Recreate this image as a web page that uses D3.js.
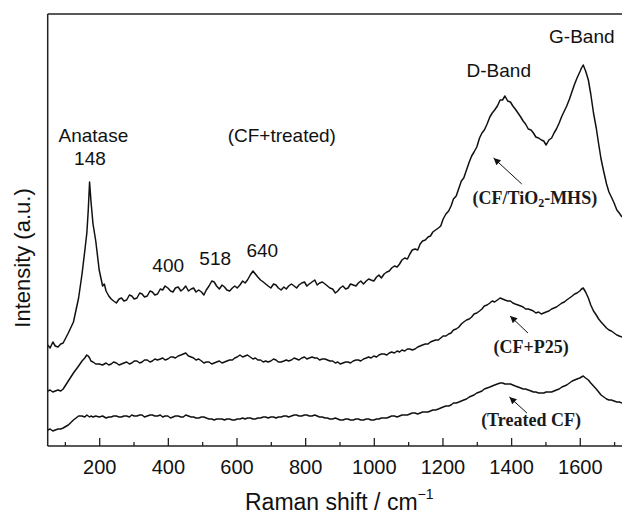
<!DOCTYPE html>
<html><head><meta charset="utf-8">
<script src="https://cdn.jsdelivr.net/npm/d3@7"></script>
<style>
html,body{margin:0;padding:0;background:#fff;}
svg{display:block;}
</style></head>
<body>
<svg id="chart" width="622" height="514"></svg>
<script>
// ---- data (Raman shift cm^-1, intensity a.u. with vertical offsets as plotted) ----
const mhsSpectrum = [
[50,101],[57,98],[65,104],[72,100],[80,99],[88,102],[95,103],[110,113],[125,124],[140,148],[150,172],[158,195],[164,213],[168,235],[172,264],[176,245],[182,222],[190,205],[200,176],[210,160],[215,162],[220,155],[228,150],[235,147],[242,145],[250,143],
[258,147],[265,148],[272,145],[280,146],[288,151],[295,150],[302,147],[310,148],[318,153],[325,152],[332,149],[340,150],[348,155],[355,154],[362,151],[370,152],[378,157],[385,156],[392,160],[400,158],[408,155],[415,154],[422,158],[430,159],[438,155],[445,157],[452,160],[460,155],[468,157],[475,158],[482,154],[490,156],[498,154],[505,151],[512,156],[520,160],[528,165],[535,164],[542,160],[550,157],
[558,161],[565,159],[572,156],[580,155],[588,158],[595,160],[602,158],[610,161],[618,165],[625,163],[632,166],[640,171],[648,175],[655,172],[662,169],[670,166],[678,164],[685,162],[692,160],[700,158],[708,162],[715,161],[722,158],[730,156],[738,159],[745,157],[752,160],[760,162],[768,160],[775,158],[782,161],[790,163],[798,164],[805,160],[812,162],[820,164],[828,166],[835,161],[842,163],[850,164],
[858,162],[865,160],[872,158],[880,157],[888,153],[895,155],[902,158],[910,160],[918,157],[925,158],[932,162],[940,161],[948,160],[955,163],[962,165],[970,162],[978,165],[985,167],[992,166],[1000,165],[1008,169],[1015,171],[1022,168],[1030,172],[1038,174],[1045,175],[1052,178],[1060,180],[1068,179],[1075,182],[1082,186],[1090,188],[1098,187],[1105,192],[1112,196],[1120,197],[1128,196],[1135,202],[1142,205],[1150,206],
[1158,209],[1165,210],[1172,214],[1180,216],[1188,218],[1195,220],[1202,227],[1210,232],[1218,235],[1225,240],[1232,247],[1240,250],[1248,258],[1255,265],[1262,268],[1270,276],[1278,284],[1285,290],[1292,294],[1300,299],[1308,308],[1315,313],[1322,316],[1330,322],[1338,329],[1345,333],[1352,336],[1360,340],[1368,346],[1375,346],[1382,350],[1390,345],[1398,344],[1405,340],[1412,337],[1420,333],[1428,329],[1435,325],[1442,322],[1450,317],
[1458,316],[1465,313],[1472,309],[1480,308],[1488,306],[1495,305],[1502,301],[1510,306],[1518,308],[1525,313],[1532,317],[1540,323],[1548,330],[1555,335],[1562,340],[1570,347],[1578,355],[1585,362],[1592,368],[1600,374],[1605,378],[1610,381],[1617,375],[1625,366],[1632,352],[1640,333],[1648,318],[1655,302],[1662,287],[1670,274],[1678,262],[1685,254],[1692,249],[1700,243],[1708,236],[1715,233],[1723,229]
];
const p25Spectrum = [
[50,55],[57,56],[65,54],[72,55],[80,56],[88,55],[95,57],[110,65],[125,73],[140,80],[150,85],[158,88],[164,91],[168,90],[172,88],[176,85],[182,84],[190,82],[200,82],[210,81],[220,83],[228,81],[235,82],[242,84],[250,83],
[258,81],[265,82],[272,83],[280,84],[288,82],[295,83],[302,85],[310,85],[318,83],[325,84],[332,86],[340,86],[348,84],[355,85],[362,87],[370,86],[378,87],[385,88],[392,86],[400,87],[408,89],[415,89],[422,88],[430,90],[438,91],[445,92],[452,93],[460,90],[468,89],[475,88],[482,86],[490,87],[498,85],[505,83],[512,84],[520,84],[528,82],[535,83],[542,84],[550,85],
[558,83],[565,84],[572,85],[580,86],[588,86],[595,88],[602,89],[610,91],[618,89],[625,90],[632,91],[640,89],[648,87],[655,88],[662,86],[670,86],[678,84],[685,85],[692,84],[700,85],[708,87],[715,86],[722,84],[730,84],[738,85],[745,86],[752,85],[760,86],[768,88],[775,87],[782,86],[790,88],[798,89],[805,87],[812,88],[820,89],[828,88],[835,88],[842,86],[850,87],
[858,87],[865,86],[872,85],[880,85],[888,83],[895,84],[902,82],[910,83],[918,84],[925,84],[932,83],[940,85],[948,86],[955,86],[962,85],[970,87],[978,88],[985,89],[992,88],[1000,90],[1008,89],[1015,91],[1022,92],[1030,92],[1038,91],[1045,93],[1052,94],[1060,93],[1068,95],[1075,94],[1082,96],[1090,95],[1098,97],[1105,97],[1112,96],[1120,97],[1128,99],[1135,100],[1142,101],[1150,102],
[1158,102],[1165,104],[1172,105],[1180,106],[1188,106],[1195,108],[1202,110],[1210,110],[1218,112],[1225,113],[1232,116],[1240,117],[1248,119],[1255,122],[1262,124],[1270,126],[1278,127],[1285,129],[1292,132],[1300,133],[1308,135],[1315,137],[1322,140],[1330,141],[1338,143],[1345,145],[1352,144],[1360,146],[1368,148],[1375,147],[1382,146],[1390,145],[1398,145],[1405,143],[1412,142],[1420,141],[1428,140],[1435,139],[1442,137],[1450,137],
[1458,136],[1465,135],[1472,133],[1480,134],[1488,132],[1495,133],[1502,134],[1510,135],[1518,137],[1525,138],[1532,139],[1540,141],[1548,143],[1555,144],[1562,146],[1570,148],[1578,150],[1585,152],[1592,153],[1600,155],[1605,157],[1610,158],[1617,154],[1625,148],[1632,141],[1640,135],[1648,131],[1655,127],[1662,124],[1670,121],[1678,118],[1685,116],[1692,115],[1700,113],[1708,111],[1715,110],[1723,109]
];
const treatedSpectrum = [
[50,16],[57,17],[65,15],[72,16],[80,17],[88,17],[95,18],[110,21],[125,26],[140,30],[150,30],[158,29],[164,31],[168,30],[172,29],[176,30],[182,29],[190,30],[200,29],[210,30],[220,28],[228,29],[235,29],[242,30],[250,30],
[258,29],[265,29],[272,30],[280,30],[288,29],[295,31],[302,30],[310,30],[318,31],[325,31],[332,29],[340,30],[348,31],[355,31],[362,30],[370,30],[378,31],[385,29],[392,30],[400,30],[408,28],[415,29],[422,30],[430,30],[438,29],[445,29],[452,31],[460,30],[468,29],[475,29],[482,28],[490,28],[498,29],[505,29],[512,28],[520,27],[528,27],[535,26],[542,27],[550,27],
[558,27],[565,26],[572,27],[580,27],[588,26],[595,26],[602,27],[610,27],[618,28],[625,27],[632,28],[640,28],[648,27],[655,27],[662,28],[670,28],[678,29],[685,29],[692,28],[700,29],[708,29],[715,28],[722,29],[730,29],[738,30],[745,30],[752,29],[760,30],[768,31],[775,31],[782,30],[790,30],[798,31],[805,31],[812,30],[820,30],[828,31],[835,30],[842,29],[850,29],
[858,28],[865,28],[872,27],[880,27],[888,28],[895,27],[902,26],[910,26],[918,27],[925,27],[932,26],[940,26],[948,27],[955,27],[962,26],[970,26],[978,27],[985,27],[992,26],[1000,26],[1008,27],[1015,27],[1022,28],[1030,28],[1038,28],[1045,29],[1052,30],[1060,30],[1068,29],[1075,30],[1082,31],[1090,31],[1098,31],[1105,32],[1112,33],[1120,33],[1128,32],[1135,33],[1142,34],[1150,34],
[1158,34],[1165,35],[1172,36],[1180,36],[1188,37],[1195,38],[1202,39],[1210,40],[1218,40],[1225,41],[1232,43],[1240,43],[1248,44],[1255,45],[1262,46],[1270,47],[1278,49],[1285,50],[1292,51],[1300,53],[1308,54],[1315,55],[1322,57],[1330,58],[1338,59],[1345,60],[1352,61],[1360,62],[1368,63],[1375,63],[1382,62],[1390,62],[1398,62],[1405,61],[1412,60],[1420,59],[1428,58],[1435,57],[1442,57],[1450,56],
[1458,55],[1465,54],[1472,54],[1480,53],[1488,53],[1495,53],[1502,54],[1510,54],[1518,54],[1525,55],[1532,56],[1540,57],[1548,59],[1555,60],[1562,61],[1570,63],[1578,65],[1585,66],[1592,67],[1600,68],[1605,69],[1610,70],[1617,68],[1625,66],[1632,63],[1640,60],[1648,57],[1655,54],[1662,51],[1670,49],[1678,47],[1685,46],[1692,46],[1700,45],[1708,44],[1715,44],[1723,43]
];
const majorTicks = [200,400,600,800,1000,1200,1400,1600];
const minorTicks = [100,300,500,700,900,1100,1300,1500,1700];
const peakLabels = [
  {text:"Anatase", x:183, y:304},
  {text:"148", x:173, y:281},
  {text:"(CF+treated)", x:732, y:304},
  {text:"400", x:401, y:174},
  {text:"518", x:538, y:181},
  {text:"640", x:675, y:189},
  {text:"D-Band", x:1364, y:369},
  {text:"G-Band", x:1606, y:403}
];
const sampleLabels = [
  {name:"mhs", x:1469, y:242, ax1:1431, ay1:262, ax2:1349, ay2:288},
  {name:"p25", x:1458, y:93, ax1:1449, ay1:113, ax2:1397, ay2:130},
  {name:"treated", x:1458, y:20, ax1:1446, ay1:33, ax2:1395, ay2:49}
];

// ---- layout ----
const svg = d3.select("#chart");
const L = 47.7, R = 622, T = 14, B = 446;
const x = d3.scaleLinear().domain([50, 1723]).range([L, R]);
const y = d3.scaleLinear().domain([0, 432]).range([B, T]);
const sans = "'Liberation Sans', Arial, Helvetica, sans-serif";
const serif = "'Liberation Serif', 'Times New Roman', serif";

svg.append("defs").append("clipPath").attr("id","plotclip")
  .append("rect").attr("x",L).attr("y",T).attr("width",R-L).attr("height",B-T);
const marker = svg.select("defs").append("marker").attr("id","ah")
  .attr("viewBox","0 0 10 10").attr("refX",10).attr("refY",5)
  .attr("markerWidth",9).attr("markerHeight",7).attr("markerUnits","userSpaceOnUse")
  .attr("orient","auto");
marker.append("path").attr("d","M0,0 L10,5 L0,10 Z").attr("fill","#111");

// spectra
const line = d3.line().x(d=>x(d[0])).y(d=>y(d[1]));
const g = svg.append("g").attr("clip-path","url(#plotclip)");
[mhsSpectrum, p25Spectrum, treatedSpectrum].forEach(s=>{
  g.append("path").datum(s).attr("d",line)
   .attr("fill","none").attr("stroke","#111").attr("stroke-width",1.5)
   .attr("stroke-linejoin","round");
});

// frame: top and left lines
svg.append("line").attr("x1",L).attr("x2",R).attr("y1",T).attr("y2",T)
  .attr("stroke","#222").attr("stroke-width",1.5);
svg.append("line").attr("x1",L).attr("x2",L).attr("y1",T).attr("y2",B)
  .attr("stroke","#222").attr("stroke-width",1.5);

// bottom axis
const ax = svg.append("g").attr("transform",`translate(0,${B})`)
  .call(d3.axisBottom(x).tickValues(majorTicks).tickSize(-8).tickSizeOuter(0).tickPadding(14).tickFormat(d3.format("d")));
ax.select(".domain").attr("stroke","#222").attr("stroke-width",1.5).attr("d",`M${L},0H${R}`);
ax.selectAll(".tick line").attr("stroke","#222").attr("stroke-width",1.3);
ax.selectAll("text").attr("font-family",sans).attr("font-size",20).attr("fill","#111");
svg.append("g").attr("transform",`translate(0,${B})`)
  .call(d3.axisBottom(x).tickValues(minorTicks).tickSize(-4).tickSizeOuter(0).tickFormat(""))
  .call(a=>a.select(".domain").remove())
  .selectAll(".tick line").attr("stroke","#222").attr("stroke-width",1.3);

// axis titles
const xt = svg.append("text").attr("x",245).attr("y",510)
  .attr("font-family",sans).attr("font-size",23).attr("fill","#111");
xt.append("tspan").text("Raman shift / cm");
xt.append("tspan").attr("font-size",14).attr("dy",-11).text("−1");
svg.append("text").attr("transform","translate(30,258) rotate(-90)")
  .attr("text-anchor","middle").attr("font-family",sans).attr("font-size",22).attr("fill","#111")
  .text("Intensity (a.u.)");

// peak labels
svg.selectAll("text.pk").data(peakLabels).join("text").attr("class","pk")
  .attr("x",d=>x(d.x)).attr("y",d=>y(d.y)).attr("text-anchor","middle")
  .attr("font-family",sans).attr("font-size",19).attr("fill","#111").text(d=>d.text);

// sample labels with arrows
sampleLabels.forEach(d=>{
  const t = svg.append("text").attr("x",x(d.x)).attr("y",y(d.y)).attr("text-anchor","middle")
    .attr("font-family",serif).attr("font-weight","bold").attr("font-size",18).attr("fill","#1a1a1a");
  if(d.name==="mhs"){
    t.append("tspan").text("(CF/TiO");
    t.append("tspan").attr("font-size",12).attr("dy",3).text("2");
    t.append("tspan").attr("dy",-3).text("-MHS)");
  } else if(d.name==="p25"){
    t.text("(CF+P25)");
  } else {
    t.text("(Treated CF)");
  }
  svg.append("line").attr("x1",x(d.ax1)).attr("y1",y(d.ay1)).attr("x2",x(d.ax2)).attr("y2",y(d.ay2))
    .attr("stroke","#111").attr("stroke-width",1).attr("marker-end","url(#ah)");
});
</script>
</body></html>
